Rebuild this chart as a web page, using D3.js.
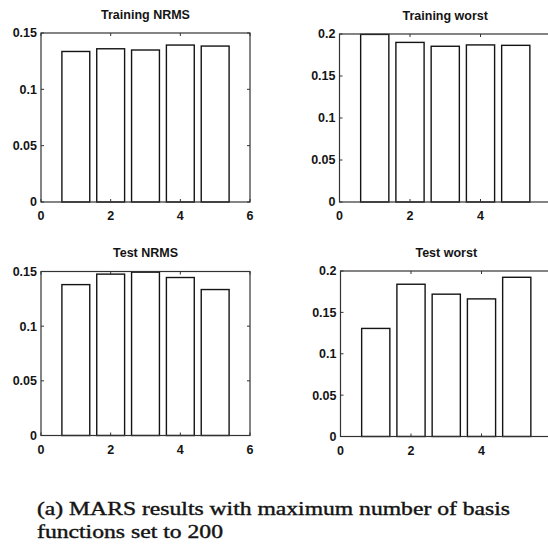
<!DOCTYPE html>
<html>
<head>
<meta charset="utf-8">
<script src="https://cdn.jsdelivr.net/npm/d3@7"></script>
<style>
  body { margin: 0; background: #fff; }
  svg { display: block; }
</style>
</head>
<body>
<svg id="chart"></svg>
<script>
const runs = [1, 2, 3, 4, 5]
const trainingNrms = [0.1336, 0.136, 0.1349, 0.1393, 0.1384]
const trainingWorst = [0.1995, 0.19, 0.1854, 0.187, 0.1865]
const testNrms = [0.138, 0.1476, 0.1494, 0.1445, 0.1335]
const testWorst = [0.1306, 0.184, 0.172, 0.1663, 0.1924]
const xTicks = [0, 2, 4, 6]
const nrmsTicks = [0, 0.05, 0.1, 0.15]
const worstTicks = [0, 0.05, 0.1, 0.15, 0.2]
const titles = ["Training NRMS", "Training worst", "Test NRMS", "Test worst"]
const captionLines = [
  "(a) MARS results with maximum number of basis",
  "functions set to 200",
]

const width = 548
const height = 545
const ink = "#141414"

const svg = d3.select("#chart").attr("width", width).attr("height", height)

const panels = [
  { title: titles[0], values: trainingNrms, yTicks: nrmsTicks, x0: 41, x1: 250, y0: 33, y1: 202 },
  { title: titles[1], values: trainingWorst, yTicks: worstTicks, x0: 339.5, x1: 551, y0: 34, y1: 202 },
  { title: titles[2], values: testNrms, yTicks: nrmsTicks, x0: 41, x1: 250, y0: 271.5, y1: 435.5 },
  { title: titles[3], values: testWorst, yTicks: worstTicks, x0: 340.5, x1: 552, y0: 271, y1: 436.5 },
]

const drawPanel = (p) => {
  const x = d3.scaleLinear().domain([0, 6]).range([p.x0, p.x1])
  const y = d3.scaleLinear().domain([0, d3.max(p.yTicks)]).range([p.y1, p.y0])
  const g = svg.append("g")

  // bars
  g.selectAll("rect.bar")
    .data(p.values)
    .join("rect")
    .attr("class", "bar")
    .attr("x", (d, i) => x(runs[i] - 0.4))
    .attr("y", (d) => y(d))
    .attr("width", x(0.8) - x(0))
    .attr("height", (d) => y(0) - y(d))
    .attr("fill", "#fff")
    .attr("stroke", ink)
    .attr("stroke-width", 1.4)

  // box
  g.append("rect")
    .attr("x", p.x0)
    .attr("y", p.y0)
    .attr("width", p.x1 - p.x0)
    .attr("height", p.y1 - p.y0)
    .attr("fill", "none")
    .attr("stroke", "#333")
    .attr("stroke-width", 1.2)

  // inward ticks, all four sides
  const tl = 3
  g.selectAll("line.xt")
    .data(xTicks)
    .join("line")
    .attr("x1", (d) => x(d))
    .attr("x2", (d) => x(d))
    .attr("y1", p.y1)
    .attr("y2", p.y1 - tl)
    .attr("stroke", "#333")
  g.selectAll("line.xtt")
    .data(xTicks)
    .join("line")
    .attr("x1", (d) => x(d))
    .attr("x2", (d) => x(d))
    .attr("y1", p.y0)
    .attr("y2", p.y0 + tl)
    .attr("stroke", "#333")
  g.selectAll("line.yt")
    .data(p.yTicks)
    .join("line")
    .attr("x1", p.x0)
    .attr("x2", p.x0 + tl)
    .attr("y1", (d) => y(d))
    .attr("y2", (d) => y(d))
    .attr("stroke", "#333")
  g.selectAll("line.ytr")
    .data(p.yTicks)
    .join("line")
    .attr("x1", p.x1)
    .attr("x2", p.x1 - tl)
    .attr("y1", (d) => y(d))
    .attr("y2", (d) => y(d))
    .attr("stroke", "#333")

  // tick labels (the right panels run off the page, so their last label is not shown)
  g.selectAll("text.xl")
    .data(xTicks.filter((d) => x(d) + 5 <= width))
    .join("text")
    .attr("x", (d) => x(d))
    .attr("y", p.y1 + 18)
    .attr("text-anchor", "middle")
    .style("font-family", "Liberation Sans, Arial, sans-serif")
    .style("font-weight", "bold")
    .style("font-size", "12.5px")
    .attr("fill", ink)
    .text((d) => d)
  g.selectAll("text.yl")
    .data(p.yTicks)
    .join("text")
    .attr("x", p.x0 - 4)
    .attr("y", (d) => y(d))
    .attr("dy", "0.35em")
    .attr("text-anchor", "end")
    .style("font-family", "Liberation Sans, Arial, sans-serif")
    .style("font-weight", "bold")
    .style("font-size", "12.5px")
    .attr("fill", ink)
    .text((d) => d)

  // title
  g.append("text")
    .attr("x", (p.x0 + p.x1) / 2)
    .attr("y", p.y0 - 14.5)
    .attr("text-anchor", "middle")
    .style("font-family", "Liberation Sans, Arial, sans-serif")
    .style("font-weight", "bold")
    .style("font-size", "12.5px")
    .attr("fill", ink)
    .text(p.title)
}

panels.forEach(drawPanel)

// caption
const captionWidths = [473, 186]
svg.selectAll("text.caption")
  .data(captionLines)
  .join("text")
  .attr("class", "caption")
  .attr("x", 37)
  .attr("y", (d, i) => 515 + i * 23)
  .attr("textLength", (d, i) => captionWidths[i])
  .attr("lengthAdjust", "spacingAndGlyphs")
  .style("font-family", "Liberation Serif, Times New Roman, serif")
  .style("font-size", "19px")
  .attr("fill", ink)
  .attr("stroke", ink)
  .attr("stroke-width", 0.4)
  .text((d) => d)
</script>
</body>
</html>
